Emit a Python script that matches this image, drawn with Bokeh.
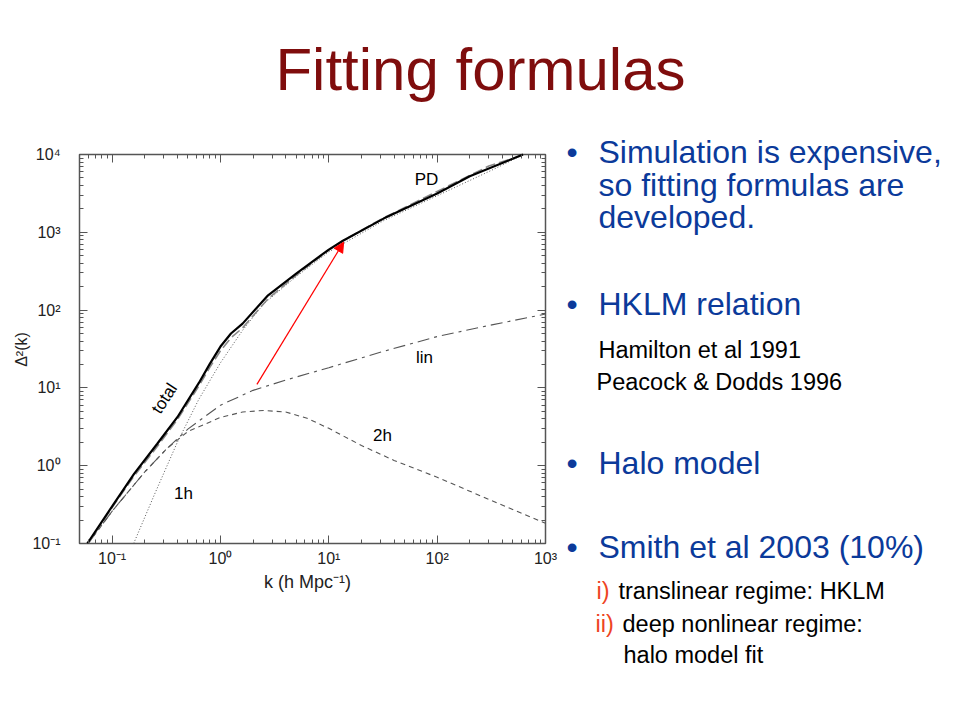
import math
from bokeh.plotting import figure
from bokeh.models import (Arrow, NormalHead, FixedTicker, LogAxis, Range1d, LinearScale)
from bokeh.core.properties import value
from bokeh.embed import file_html
from bokeh.resources import INLINE

# ---------------- data ----------------
total_k = [0.059, 0.1, 0.16, 0.26, 0.4, 0.63, 0.8, 1.0, 1.25, 1.6, 2.75, 5.0, 10, 13.5, 32, 100, 200, 620]
total_d = [0.1, 0.30, 0.79, 1.9, 4.2, 11.5, 20.5, 34, 50, 67, 155, 295, 600, 780, 1500, 3150, 5250, 10000]

pd_k = [0.06, 0.1, 0.16, 0.26, 0.4, 0.63, 0.8, 1.0, 1.25, 1.6, 2.75, 5.0, 10, 13.5, 32, 100, 300, 650]
pd_d = [0.1, 0.29, 0.74, 1.75, 3.9, 10.5, 18.5, 30, 44, 59, 140, 280, 590, 780, 1530, 3350, 7100, 10000]

lin_k = [0.06, 0.1, 0.2, 0.32, 0.5, 1, 2, 4, 10, 32, 100, 320, 1000]
lin_d = [0.1, 0.26, 0.83, 1.66, 2.95, 6.0, 9.3, 12.6, 18.2, 29.5, 45.7, 64.6, 89]

twoh_k = [0.06, 0.1, 0.2, 0.32, 0.5, 1, 1.6, 2.5, 4, 6.3, 10, 20, 40, 100, 320, 1000]
twoh_d = [0.1, 0.26, 0.83, 1.66, 2.75, 4.17, 4.9, 5.13, 4.9, 4.07, 3.02, 1.82, 1.17, 0.71, 0.355, 0.182]

oneh_k = [0.158, 0.25, 0.4, 0.63, 1, 1.6, 2.5, 5, 10, 32, 100, 320, 630]
oneh_d = [0.1, 0.45, 2.0, 7.1, 21, 55, 120, 270, 560, 1410, 2950, 6300, 10000]

arrow_start = (2.17, 11.1)
arrow_end = (13.7, 746)

k_limits = (0.05, 1000)
d_limits = (0.1, 10000)
x_major = [0.1, 1, 10, 100, 1000]
x_labels = ["10\u207b\u00b9", "10\u2070", "10\u00b9", "10\u00b2", "10\u00b3"]
y_major = [0.1, 1, 10, 100, 1000, 10000]
y_labels = ["10\u207b\u00b9", "10\u2070", "10\u00b9", "10\u00b2", "10\u00b3", "10\u2074"]

title_text = "Fitting formulas"
x_title = "k (h Mpc\u207b\u00b9)"
y_title = "\u0394\u00b2(k)"

# ---------------- page geometry (pixels) ----------------
W, H = 944, 704
BOX_L, BOX_R, BOX_T, BOX_B = 79, 545, 154, 543   # chart box on the page

FONT = "Liberation Sans"
BLUE = "#0b3a9a"
MAROON = "#7f0d0d"
RED = "#ee4422"
GREY = "#555555"

# log ranges chosen so that the chart box lands at BOX_* while the frame fills the page
lx0, lx1 = math.log10(k_limits[0]), math.log10(k_limits[1])
ly0, ly1 = math.log10(d_limits[0]), math.log10(d_limits[1])
xpd = (BOX_R - BOX_L) / (lx1 - lx0)
ypd = (BOX_B - BOX_T) / (ly1 - ly0)
x_range = Range1d(10 ** (lx0 - BOX_L / xpd), 10 ** (lx1 + (W - BOX_R) / xpd))
y_range = Range1d(10 ** (ly0 - (H - BOX_B) / ypd), 10 ** (ly1 + BOX_T / ypd))

p = figure(width=W, height=H, x_axis_type="log", y_axis_type="log",
           x_range=x_range, y_range=y_range,
           x_axis_location=None, y_axis_location=None,
           output_backend="svg", toolbar_location=None, min_border=0)
p.grid.visible = False
p.outline_line_color = None
p.background_fill_color = "white"
p.border_fill_color = "white"

# linear page-pixel coordinates for free text
p.extra_x_ranges = {"px": Range1d(0, W)}
p.extra_y_ranges = {"py": Range1d(H, 0)}
p.extra_x_scales = {"px": LinearScale()}
p.extra_y_scales = {"py": LinearScale()}


def minor_of(lo, hi):
    out = []
    e = -3
    while 10 ** e <= hi:
        for m in range(2, 10):
            v = m * 10 ** e
            if lo <= v <= hi:
                out.append(v)
        e += 1
    return out


def make_axis(major, labels, lims, loc, show_labels):
    ax = LogAxis(ticker=FixedTicker(ticks=major, minor_ticks=minor_of(*lims)),
                 fixed_location=loc, bounds=lims)
    ax.major_tick_in = 8
    ax.major_tick_out = 0
    ax.minor_tick_in = 4
    ax.minor_tick_out = 0
    ax.major_tick_line_color = GREY
    ax.minor_tick_line_color = GREY
    ax.axis_line_color = None
    ax.major_label_text_font = FONT
    if show_labels:
        ax.major_label_overrides = {v: s for v, s in zip(major, labels)}
        ax.major_label_text_font_size = "16px"
        ax.major_label_text_color = "#222222"
    else:
        ax.major_label_text_font_size = "0px"
        ax.major_label_text_color = None
    return ax


bottom_ax = make_axis(x_major, x_labels, k_limits, d_limits[0], True)
bottom_ax.major_label_standoff = 6
left_ax = make_axis(y_major, y_labels, d_limits, k_limits[0], True)
left_ax.major_label_standoff = 19
top_ax = make_axis(x_major, x_labels, k_limits, d_limits[1], False)
right_ax = make_axis(y_major, y_labels, d_limits, k_limits[1], False)
p.add_layout(bottom_ax, "below")
p.add_layout(left_ax, "left")
p.add_layout(top_ax, "above")
p.add_layout(right_ax, "right")

# chart box
p.quad(left=[k_limits[0]], right=[k_limits[1]], bottom=[d_limits[0]], top=[d_limits[1]],
       fill_color=None, line_color=GREY, line_width=1.5)

# curves
p.line(oneh_k, oneh_d, line_color=GREY, line_width=1, line_dash="1 2")
p.line(twoh_k, twoh_d, line_color=GREY, line_width=1.1, line_dash="5 4")
p.line(lin_k, lin_d, line_color=GREY, line_width=1.1, line_dash="12 5 3 5")
p.line(pd_k, pd_d, line_color="#888888", line_width=1.6, line_dash="10 4")
p.line(total_k, total_d, line_color="black", line_width=2.2)

p.add_layout(Arrow(end=NormalHead(size=10, fill_color="red", line_color="red", line_width=1),
                   x_start=arrow_start[0], y_start=arrow_start[1],
                   x_end=arrow_end[0], y_end=arrow_end[1],
                   line_color="red", line_width=1.2))


def txt(s, X, Y, size, color="black", align="left", angle=0):
    # Y is the vertical middle of the text line, in page pixels
    p.text(x=[X], y=[Y], text=[s], x_range_name="px", y_range_name="py",
           text_font=value(FONT), text_font_size=f"{size}px", text_color=color,
           text_align=align, text_baseline="middle", angle=angle, angle_units="deg")


# axis titles
txt(x_title, 307, 581, 18, "#222222", "center")
txt(y_title, 21, 349, 16, "#222222", "center", 90)

# curve labels
txt("PD", 426, 179, 17, align="center")
txt("lin", 424, 357, 17, align="center")
txt("2h", 382, 435, 17, align="center")
txt("1h", 183, 493, 17, align="center")
txt("total", 164, 398, 17, align="center", angle=57)

# title
txt(title_text, 480, 69, 60, MAROON, "center")

# right-hand bullets
BX, TX = 566, 598
BS, SS = 32, 23.5
txt("\u2022", BX, 151, BS, BLUE)
txt("Simulation is expensive,", TX, 151, BS, BLUE)
txt("so fitting formulas are", TX, 184, BS, BLUE)
txt("developed.", TX, 216, BS, BLUE)

txt("\u2022", BX, 303, BS, BLUE)
txt("HKLM relation", TX, 303, BS, BLUE)
txt("Hamilton et al 1991", 598, 349, SS)
txt("Peacock & Dodds 1996", 596, 381, SS)

txt("\u2022", BX, 462, BS, BLUE)
txt("Halo model", TX, 462, BS, BLUE)

txt("\u2022", BX, 546, BS, BLUE)
txt("Smith et al 2003 (10%)", TX, 546, BS, BLUE)

txt("i)", 596, 590, SS, RED)
txt("translinear regime: HKLM", 618, 590, SS)
txt("ii)", 595, 623, SS, RED)
txt("deep nonlinear regime:", 622, 623, SS)
txt("halo model fit", 623, 654, SS)

open("out.html", "w").write(file_html(p, INLINE))
